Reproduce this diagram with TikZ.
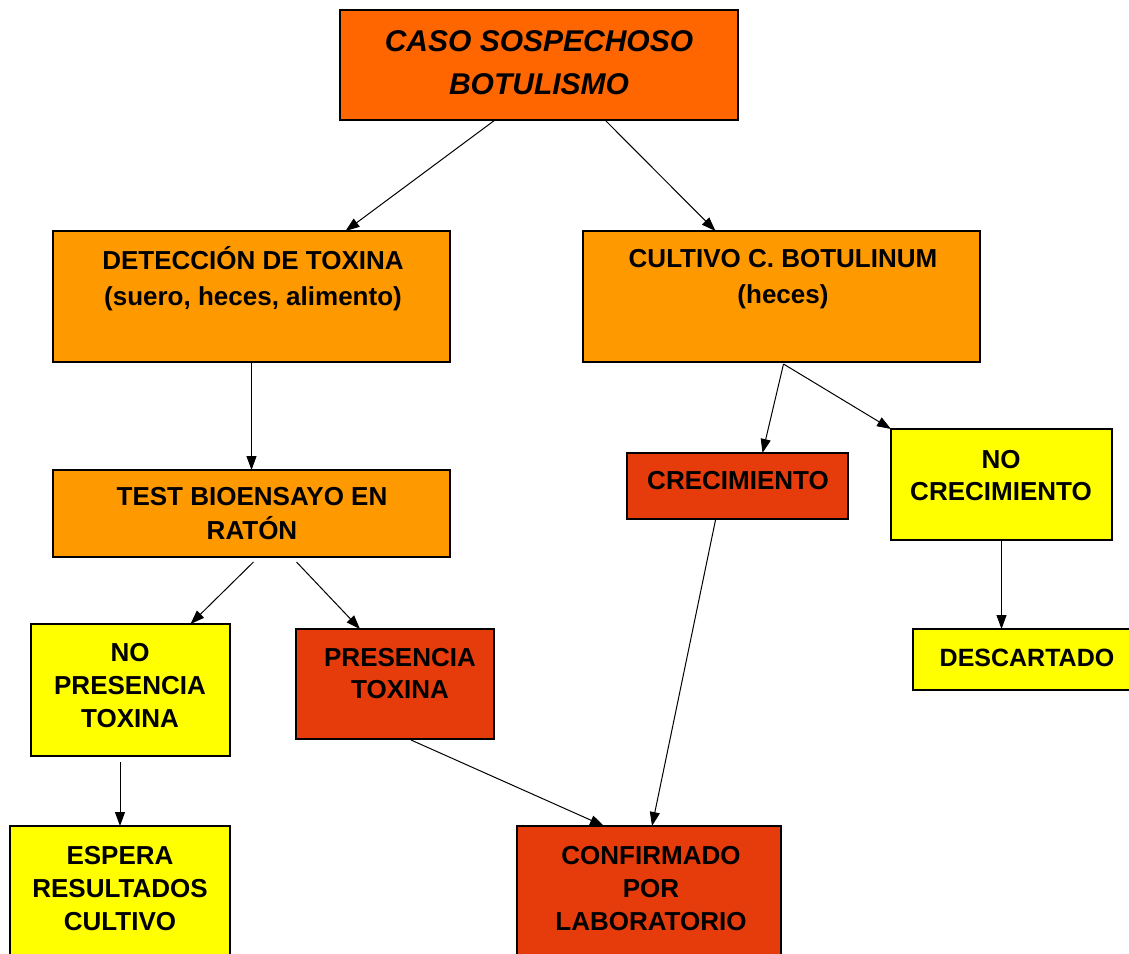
\documentclass[tikz,border=0pt]{standalone}
\usepackage{fontspec}
\setmainfont{Liberation Sans}
\usetikzlibrary{arrows.meta,calc}

\definecolor{rojoA}{HTML}{FF6600}
\definecolor{naranja}{HTML}{FF9900}
\definecolor{rojoB}{HTML}{E63C0C}
\definecolor{amarillo}{HTML}{FFFF00}

\begin{document}
\begin{tikzpicture}[x=0.5pt, y=-0.5pt,
    box/.style={draw, line width=0.6pt, inner sep=0pt, outer sep=0pt},
    txt/.style={font=\fontsize{13}{17}\selectfont\bfseries, align=center, inner sep=0pt},
    flecha/.style={line width=0.5pt, -{Triangle[length=7pt, width=5pt]}}]
  \useasboundingbox (0, 0) rectangle (1129, 953);

  \node[box, fill=rojoA, minimum width=199pt, minimum height=55pt] (caso) at (539, 65) {};
  \node[box, fill=naranja, minimum width=198.5pt, minimum height=65.5pt] (det) at (251.5, 296.5) {};
  \node[box, fill=naranja, minimum width=198.5pt, minimum height=65.5pt] (cult) at (781.5, 296.5) {};
  \node[box, fill=naranja, minimum width=198.5pt, minimum height=43.5pt] (test) at (251.5, 513.5) {};

  \node[box, fill=rojoB, minimum width=110.5pt, minimum height=33pt] (crec) at (737.5, 486) {};
  \node[box, fill=amarillo, minimum width=110.5pt, minimum height=55.5pt] (nocrec) at (1001.5, 484.5) {};
  \node[box, fill=amarillo, minimum width=108.5pt, minimum height=30.5pt] (desc) at (1021.5, 659.5) {};

  \node[box, fill=amarillo, minimum width=99.5pt, minimum height=66pt] (nopres) at (130.5, 690) {};
  \node[box, fill=rojoB, minimum width=99pt, minimum height=55pt] (pres) at (395, 684) {};
  \node[box, fill=amarillo, minimum width=110pt, minimum height=72pt] (espera) at (120, 898) {};
  \node[box, fill=rojoB, minimum width=132pt, minimum height=72pt] (conf) at (649, 898) {};

  % textos
  \node[txt, font=\fontsize{15}{21.5}\selectfont\bfseries\itshape] (casoT) at (539, 63) {CASO SOSPECHOSO\\BOTULISMO};
  \node[txt, font=\fontsize{13}{18}\selectfont\bfseries] (detT) at (253, 279) {DETECCIÓN DE TOXINA\\(suero, heces, alimento)};
  \node[txt, font=\fontsize{13}{18}\selectfont\bfseries] (cultT) at (783, 279) {CULTIVO C. BOTULINUM\\(heces)};
  \node[txt] (testT) at (252, 514) {TEST BIOENSAYO EN\\RATÓN};
  \node[txt] (crecT) at (738, 481) {CRECIMIENTO};
  \node[txt, font=\fontsize{13}{16}\selectfont\bfseries] (nocrecT) at (1001, 476) {NO\\CRECIMIENTO};
  \node[txt, font=\fontsize{12.5}{17}\selectfont\bfseries] (descT) at (1027, 658) {DESCARTADO};
  \node[txt, font=\fontsize{13}{16.5}\selectfont\bfseries] (nopresT) at (130, 686) {NO\\PRESENCIA\\TOXINA};
  \node[txt, font=\fontsize{13}{16}\selectfont\bfseries] (presT) at (400, 674) {PRESENCIA\\TOXINA};
  \node[txt, font=\fontsize{13}{16.5}\selectfont\bfseries] (esperaT) at (120, 889) {ESPERA\\RESULTADOS\\CULTIVO};
  \node[txt, font=\fontsize{13}{16.5}\selectfont\bfseries] (confT) at (651, 889) {CONFIRMADO\\POR\\LABORATORIO};

  % flechas
  \draw[flecha] ($(caso.south)+(-44, 0)$) -- ($(det.north)+(94, 0)$);
  \draw[flecha] ($(caso.south)+(66, 0)$) -- ($(cult.north)+(-66, 0)$);
  \draw[flecha] (det.south) -- (test.north);
  \draw[flecha] ($(test.south)+(2, 5)$) -- ($(nopres.north)+(60, 0)$);
  \draw[flecha] ($(test.south)+(45, 5)$) -- ($(pres.north)+(-35, 0)$);
  \draw[flecha] ($(cult.south)+(2, 2)$) -- ($(crec.north)+(25, 0)$);
  \draw[flecha] ($(cult.south)+(2, 2)$) -- (nocrec.north west);
  \draw[flecha] (nocrec.south) -- (nocrec.south |- desc.north);
  \draw[flecha] ($(espera.north |- nopres.south)+(0, 6)$) -- (espera.north);
  \draw[flecha] ($(pres.south)+(16, 1)$) -- ($(conf.north)+(-45, 0)$);
  \draw[flecha] ($(crec.south)+(-22, 1)$) -- ($(conf.north)+(3, 0)$);
\end{tikzpicture}
\end{document}
